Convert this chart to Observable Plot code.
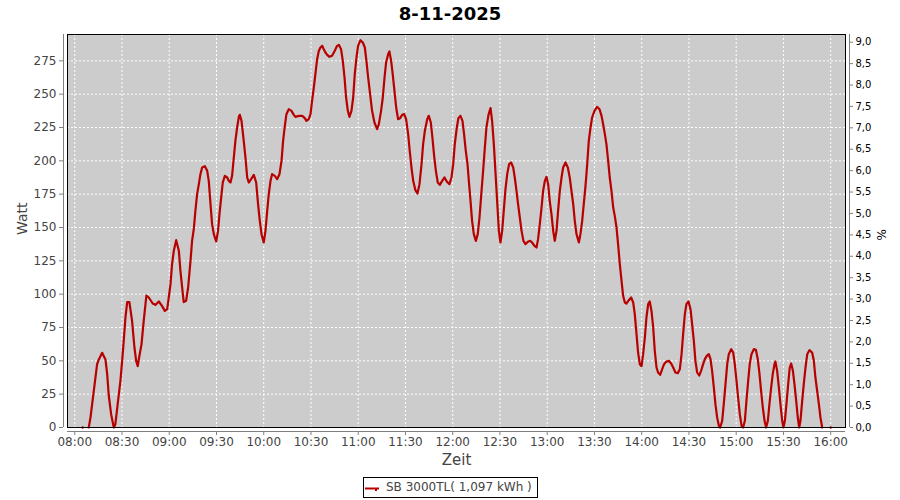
<!DOCTYPE html>
<html>
<head>
<meta charset="utf-8">
<script src="https://cdn.jsdelivr.net/npm/d3@7"></script>
<script src="https://cdn.jsdelivr.net/npm/@observablehq/plot@0.6"></script>
<style>
  body { margin: 0; background: #fff; font-family: "DejaVu Sans", sans-serif; }
  #wrap { width: 900px; height: 500px; background: #fff; }
  #title { height: 30px; line-height: 28px; text-align: center; font-weight: bold; font-size: 18px; color: #000; }
  #chart svg { display: block; }
  #legendRow { height: 23px; padding-top: 1px; }
  #legend { margin-left: 363px; width: 175px; height: 21px; box-sizing: border-box; border: 1px solid #000;
            display: flex; align-items: center; font-size: 12px; color: #444; }
  #legend svg { margin-left: 1px; margin-right: 7px; }
  #legend span { line-height: 19px; white-space: nowrap; }
</style>
</head>
<body>
<div id="wrap">
  <div id="title"></div>
  <div id="chart"></div>
  <div id="legendRow"><div id="legend"></div></div>
</div>
<script>
// ---- Data ----
const chartTitle = "8-11-2025";
const seriesName = "SB 3000TL( 1,097 kWh )";
const yLabel = "Watt";
const y2Label = "%";
const xLabel = "Zeit";

// minutes after 08:00
const minutes = [
  8.9,10.0,12.1,14.2,15.3,17.4,19.5,20.6,21.6,23.1,24.8,25.8,27.5,29.0,30.1,31.1,32.2,33.3,34.7,36.4,
  37.9,39.0,40.0,41.1,42.4,43.8,45.5,47.0,49.5,51.2,53.4,55.5,57.2,58.7,59.7,60.8,61.8,62.9,64.4,66.1,
  67.1,68.2,69.2,70.7,72.0,73.5,74.5,75.6,76.6,77.7,78.8,79.8,80.9,82.6,84.1,85.1,86.2,87.2,88.3,89.8,
  91.0,91.9,93.2,94.0,95.3,96.8,97.8,98.9,99.9,101.0,102.0,103.1,104.2,104.8,105.9,107.3,108.4,109.5,110.5,112.0,
  113.7,115.2,116.4,117.5,118.6,120.0,121.1,122.2,123.2,124.3,125.3,127.0,128.5,130.0,131.3,132.3,133.4,134.4,135.9,137.6,
  139.1,140.1,142.3,144.4,146.1,147.1,148.6,149.7,150.7,151.8,152.8,153.9,155.0,156.0,157.1,158.1,159.2,160.3,161.7,163.4,
  165.1,166.6,167.7,169.1,170.2,171.3,172.3,173.4,174.4,175.7,176.8,177.8,178.9,179.9,181.4,182.9,184.2,185.2,186.3,187.3,
  188.8,190.3,192.0,193.1,194.5,195.6,196.7,197.7,199.0,199.8,200.9,201.9,203.0,204.1,205.3,206.6,207.9,209.2,210.4,211.7,
  212.7,213.8,214.9,216.3,217.6,218.9,220.2,221.2,222.3,223.8,224.8,226.1,227.1,228.2,229.3,230.5,231.8,233.3,234.8,236.2,
  237.9,239.2,240.3,241.3,242.6,243.6,244.9,246.2,247.2,248.3,249.4,250.4,251.3,252.3,253.4,254.7,255.9,257.0,258.3,259.3,
  260.4,261.4,262.7,264.0,265.0,266.1,267.1,268.2,269.3,270.3,271.4,272.4,273.5,274.6,275.8,277.1,278.4,279.4,280.5,281.5,
  282.6,283.7,284.9,286.2,287.7,289.2,290.4,291.9,293.2,294.2,295.3,296.4,297.4,298.5,299.5,300.6,301.6,302.7,303.8,304.8,
  305.9,306.9,308.0,309.1,310.1,311.6,313.1,314.3,315.4,316.5,317.5,318.6,320.1,321.1,322.2,323.2,324.3,325.4,326.4,327.5,
  328.5,330.0,331.7,333.2,334.5,335.5,336.6,337.6,338.7,339.7,340.8,341.9,342.9,344.0,345.0,346.1,347.2,348.2,349.3,350.3,
  351.8,353.3,354.6,355.6,356.7,357.7,358.8,359.9,360.9,362.0,363.0,364.1,365.1,366.2,367.3,368.3,369.4,370.4,371.7,373.0,
  374.2,375.5,377.2,378.7,380.0,381.4,382.9,384.2,385.3,386.3,387.4,388.4,389.7,391.0,392.0,393.1,394.1,395.2,396.5,397.7,
  399.0,400.1,401.3,402.6,403.7,404.7,405.8,406.8,407.9,409.0,409.8,411.1,412.1,413.2,414.3,415.3,416.8,418.1,419.1,420.2,
  421.2,422.3,423.4,424.4,425.5,426.5,427.6,428.6,429.7,431.2,432.5,433.7,434.8,435.8,436.9,438.0,439.0,440.1,441.1,442.2,
  443.2,444.3,444.9,446.0,447.1,448.1,449.2,450.0,450.9,451.9,453.0,454.0,454.9,456.0,457.0,458.1,459.1,460.0,460.8,461.9,
  462.9,464.0,465.1,466.5,468.2,469.3,470.3,471.4,472.5,473.5,474.6
];
const watts = [
  0,7.5,27.5,47.5,51,56,51,40,24,10,0,2.5,20,35,50,65,82.5,94,94,80,
  60,50,46,54,62.5,80,99,97.5,93,92,94.5,91,87.5,88.75,97.5,107.5,122.5,132.5,140.5,132.5,
  117.5,105,94,95,105,125,140,149,162.5,175,182.5,190,195,196,192.5,185,167.5,152.5,145,139.5,
  147.5,160,175,183.75,188.75,187.5,185,183.75,188.75,202.5,215,225,233,234.5,230,215,202.5,187.5,183.75,186.25,
  189.5,183.75,167.5,155,145,138.75,147.5,162.5,175,185,190,188.75,186.25,190,200,215,226.25,235,238.75,237.5,
  234.5,233,233.75,233.75,232,230,231.25,235,245,255,265,276.25,282.5,285,286.25,283.75,281.25,279.5,278,278.75,
  282.5,286.25,287,283.75,275,262.5,247.5,237.5,233,237.5,247.5,265,277.5,286.25,290.5,288.75,285,275,262.5,252.5,
  237.5,228.75,223.75,227.5,237.5,247.5,262.5,273.75,280,282,275,265,252.5,240,231.25,232,234.5,235,231.25,220,
  207.5,195,185,178,175.5,182.5,197.5,212.5,222.5,231.25,233.75,228.75,217.5,203.75,192.5,183.75,182,185,187.5,184.5,
  182.5,187.5,197.5,212.5,225,232,233.75,230,220,207.5,197.5,182.5,170,155,145,140,145,157.5,177.5,192.5,
  210,225,234.5,239.5,230,212.5,192.5,170,147.5,138.75,147.5,162.5,178.75,190,197.5,198.75,195,187.5,177.5,167.5,
  157.5,147.5,140,137.5,139.25,140,138.75,136.25,135,141.25,152.5,165,177.5,185,188,182.5,170,160,147.5,140,
  147.5,162.5,177.5,187.5,195,198.75,195,187.5,177.5,167.5,155,145,138.75,145,155,167.5,181,197.5,215,225,
  232.5,237.5,240.5,238.75,233.75,227.5,220,212.5,200,187.5,177.5,165,158.75,150,137.5,122.5,110,98.75,93.75,93,
  95.5,97.5,93.75,85,70,56.25,47.5,46,55,67.5,82.5,92.5,94.5,87.5,75,57.5,45,41.25,39.5,43.75,
  47.5,49.25,50,48,45,41.25,40.75,43.75,55,70,85,92.5,94.5,88.75,77.5,65,50,41.25,39,42.5,
  47.5,51.25,53.75,55,51.25,42.5,30,17.5,7.5,1.25,0,5,17.5,32.5,47.5,55,58.75,56.25,47.5,35,
  22.5,10,1.25,0,5,20,35,47.5,55,58.75,58.25,51.25,40,27.5,15,5,0,5,17.5,30,
  40,47.5,49.5,42.5,30,17.5,5,0,5,17.5,32.5,45,48,42.5,32.5,20,7.5,0,5,20,
  32.5,45,55,58,56.25,50,37.5,27.5,17.5,7.5,0
];
// isolated single readings (not connected to the line)
const isoMinutes = [5, 480];
const isoWatts = [0, 0];

const xTicks = [0,30,60,90,120,150,180,210,240,270,300,330,360,390,420,450,480];
const xTickLabels = ["08:00","08:30","09:00","09:30","10:00","10:30","11:00","11:30","12:00","12:30","13:00","13:30","14:00","14:30","15:00","15:30","16:00"];
const yTicks = [0,25,50,75,100,125,150,175,200,225,250,275];
const pctTicks = [0,0.5,1,1.5,2,2.5,3,3.5,4,4.5,5,5.5,6,6.5,7,7.5,8,8.5,9];

// ---- Chart ----
const xDomain = [-4.6, 489.4];
const wattMax = 294.75, pctMax = 9.18;
const k = wattMax / pctMax;
const lineColor = "#b80000";

const data = minutes.map((m, i) => ({m, w: watts[i]}));
const iso = isoMinutes.map((m, i) => ({m, w: isoWatts[i]}));

document.getElementById("title").textContent = chartTitle;

const plot = Plot.plot({
  width: 900,
  height: 446,
  marginTop: 4,
  marginBottom: 49,
  marginLeft: 67,
  marginRight: 55,
  style: {fontFamily: '"DejaVu Sans", sans-serif', background: "transparent", overflow: "visible"},
  x: {domain: xDomain, axis: null},
  y: {domain: [0, wattMax], axis: null},
  marks: [
    Plot.frame({fill: "#cccccc"}),
    Plot.gridX(xTicks, {stroke: "#ffffff", strokeOpacity: 1, strokeDasharray: "2,2"}),
    Plot.gridY(yTicks, {stroke: "#ffffff", strokeOpacity: 1, strokeDasharray: "2,2"}),
    Plot.line(data, {x: "m", y: "w", stroke: lineColor, strokeWidth: 2.2, strokeLinejoin: "round"}),
    Plot.dot(iso, {x: "m", y: "w", r: 1.2, fill: lineColor, stroke: null}),
    Plot.frame({stroke: "#000000", strokeWidth: 1}),
    // left axis
    Plot.ruleX([xDomain[0]], {dx: -4, stroke: "#808080"}),
    Plot.axisY(yTicks, {anchor: "left", dx: -4, tickSize: 4, tickPadding: 3, fontSize: 12,
      stroke: "#808080", fill: "#444444", label: null, tickFormat: d => String(d)}),
    Plot.text([yLabel], {frameAnchor: "left", dx: -45, dy: 4, rotate: -90, fontSize: 14, fill: "#444444"}),
    // right axis
    Plot.ruleX([xDomain[1]], {dx: 4, stroke: "#808080"}),
    Plot.axisY(pctTicks.map(p => p * k), {anchor: "right", dx: 4, tickSize: 3, tickPadding: 3, fontSize: 10,
      stroke: "#808080", fill: "#000000", label: null,
      tickFormat: d => (d / k).toFixed(1).replace(".", ",")}),
    Plot.text([y2Label], {frameAnchor: "right", dx: 37, dy: -2, rotate: -90, fontSize: 12, fill: "#000000"}),
    // bottom axis
    Plot.ruleY([0], {dy: 4, stroke: "#808080"}),
    Plot.axisX(xTicks, {anchor: "bottom", dy: 4, tickSize: 4, tickPadding: 2, fontSize: 12,
      stroke: "#808080", fill: "#444444", label: null,
      tickFormat: d => xTickLabels[xTicks.indexOf(d)]}),
    Plot.text([xLabel], {frameAnchor: "bottom", lineAnchor: "middle", dy: 33, fontSize: 15, fill: "#444444"})
  ]
});
document.getElementById("chart").appendChild(plot);

// legend
const legend = d3.select("#legend");
const ls = legend.append("svg").attr("width", 14).attr("height", 19);
ls.append("line").attr("x1", 0).attr("x2", 14).attr("y1", 10.5).attr("y2", 10.5)
  .attr("stroke", lineColor).attr("stroke-width", 2);
ls.append("rect").attr("x", 10).attr("y", 11).attr("width", 2).attr("height", 2).attr("fill", lineColor);
legend.append("span").text(seriesName);
</script>
</body>
</html>
